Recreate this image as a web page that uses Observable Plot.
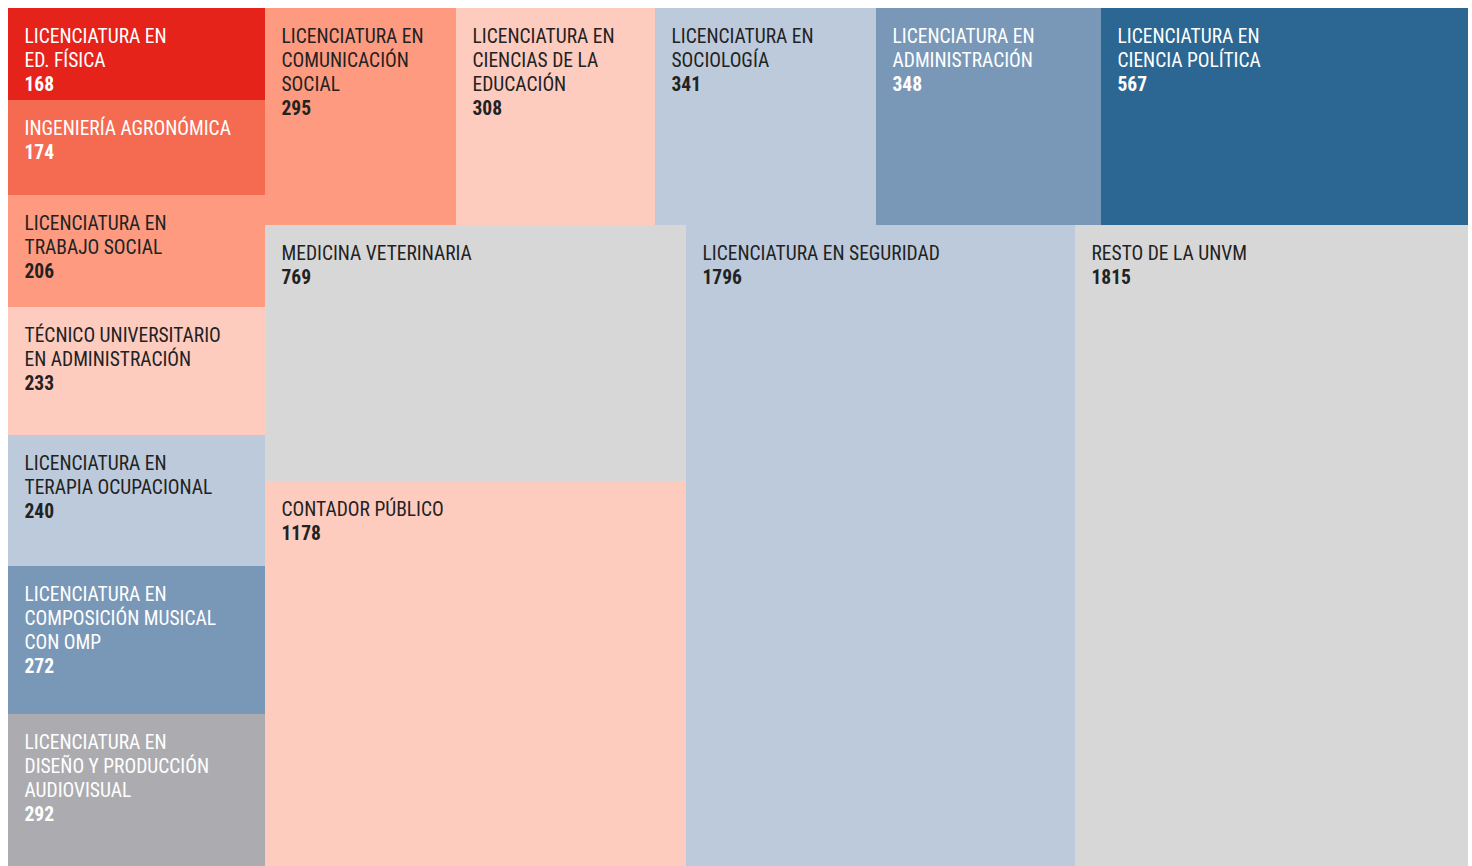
<!DOCTYPE html>
<html>
<head>
<meta charset="utf-8">
<script src="https://cdn.jsdelivr.net/npm/d3@7"></script>
<script src="https://cdn.jsdelivr.net/npm/@observablehq/plot@0.6"></script>
<style>
  html { overflow: hidden; }
  body { margin: 8px 0 0 8px; background: #fff; }
  svg { display: block; max-width: none !important; }
</style>
</head>
<body>
<script>
// ---- data ----
const programs = [
  "LICENCIATURA EN\nED. FÍSICA",
  "INGENIERÍA AGRONÓMICA",
  "LICENCIATURA EN\nTRABAJO SOCIAL",
  "TÉCNICO UNIVERSITARIO\nEN ADMINISTRACIÓN",
  "LICENCIATURA EN\nTERAPIA OCUPACIONAL",
  "LICENCIATURA EN\nCOMPOSICIÓN MUSICAL\nCON OMP",
  "LICENCIATURA EN\nDISEÑO Y PRODUCCIÓN\nAUDIOVISUAL",
  "LICENCIATURA EN\nCOMUNICACIÓN\nSOCIAL",
  "LICENCIATURA EN\nCIENCIAS DE LA\nEDUCACIÓN",
  "LICENCIATURA EN\nSOCIOLOGÍA",
  "LICENCIATURA EN\nADMINISTRACIÓN",
  "LICENCIATURA EN\nCIENCIA POLÍTICA",
  "MEDICINA VETERINARIA",
  "CONTADOR PÚBLICO",
  "LICENCIATURA EN SEGURIDAD",
  "RESTO DE LA UNVM"
];
const students = [168, 174, 206, 233, 240, 272, 292, 295, 308, 341, 348, 567, 769, 1178, 1796, 1815];
// nesting of the treemap strips (structure only)
const strips = ["a","a","a","a","a","a","a","b/c","b/c","b/c","b/c","b/c","b/d/e","b/d/e","b/d","b/d"];

// ---- styles ----
const fills = ["#e5231b","#f56b51","#fd9a80","#fecbbf","#bccadb","#7998b8","#acacb0",
               "#fd9a80","#fecbbf","#bccadb","#7998b8","#2b6792",
               "#d7d7d7","#fecbbf","#bccadb","#d7d7d7"];
const inks  = ["#fff","#fff","#222","#222","#222","#fff","#fff",
               "#222","#222","#222","#fff","#fff",
               "#222","#222","#222","#222"];

// ---- layout ----
const root = {children: []};
programs.forEach((name, i) => {
  let node = root;
  for (const key of strips[i].split("/")) {
    let child = node.children.find(c => c.key === key);
    if (!child) { child = {key, children: []}; node.children.push(child); }
    node = child;
  }
  node.children.push({name, value: students[i], i});
});
const W = 1460, H = 866;
const tree = d3.treemap().tile(d3.treemapSliceDice).size([W, H]).round(true)(
  d3.hierarchy(root).sum(d => d.children ? 0 : d.value)
);
const cells = tree.leaves().map(n => ({...n.data, x0: n.x0, x1: n.x1, y0: n.y0, y1: n.y1}));

const FS = 19.5, LINE = 24, LH = LINE / FS;
const TOP = 21, LEFT = 16;
const font = "'Roboto Condensed', Roboto, sans-serif";

const chart = Plot.plot({
  width: W,
  height: H,
  margin: 0,
  x: {type: "identity", axis: null},
  y: {type: "identity", axis: null},
  color: {type: "identity"},
  style: {fontFamily: font, fontStretch: "condensed", background: "#fff", maxWidth: "none"},
  marks: [
    Plot.rect(cells, {x1: "x0", x2: "x1", y1: "y0", y2: "y1", fill: d => fills[d.i]}),
    Plot.text(cells, {
      x: "x0", y: "y0", text: "name", dx: LEFT, dy: TOP - 0.71 * (LH - 1) * FS,
      fill: d => inks[d.i], textAnchor: "start", lineAnchor: "top",
      fontSize: FS, lineHeight: LH
    }),
    Plot.text(cells, {
      x: "x0", y: d => d.y0 + d.name.split("\n").length * LINE,
      text: d => String(d.value), dx: LEFT, dy: TOP,
      fill: d => inks[d.i], textAnchor: "start", lineAnchor: "top",
      fontSize: FS, fontWeight: "bold"
    })
  ]
});
document.body.appendChild(chart);
</script>
</body>
</html>
